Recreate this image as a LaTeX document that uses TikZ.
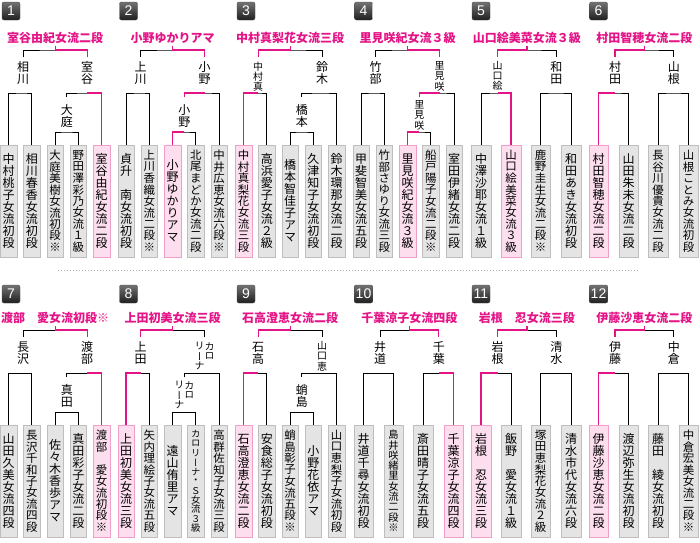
\documentclass[tikz,border=0pt]{standalone}
\usepackage{fontspec}
\usepackage{xcolor}
\usepackage{tikz}
\newfontfamily\jp{Noto Sans CJK JP}
\newfontfamily\jpv[RawFeature=+vert]{Noto Sans CJK JP}
\newfontfamily\numfont{Liberation Sans}
\definecolor{hot}{RGB}{228,20,135}
\definecolor{pinkfill}{RGB}{252,222,238}
\definecolor{pinkline}{RGB}{240,160,200}
\definecolor{boxfill}{RGB}{228,228,228}
\definecolor{boxline}{RGB}{190,190,190}
% vertical text, one character under the other
\newdimen\vtpitch
\newdimen\vtfs
\newcount\vtn
\newcommand\zs{\hbox to 1em{}}
\def\vtcount#1{\ifx#1\relax\else\advance\vtn by 1 \expandafter\vtcount\fi}
\def\vtloop#1{\ifx#1\relax\else\vbox to\vtpitch{\vss\hbox to 1em{\hss#1\hss}\vss}\expandafter\vtloop\fi}
\newcommand\vt[2][12pt]{%
  \vtn=0 \vtcount#2\relax
  \vtpitch=#1\relax
  \ifnum\vtn>8 \vtpitch=\dimexpr 103pt/\vtn\relax\fi
  \vtfs=\vtpitch
  \fontsize{\the\vtfs}{\the\vtpitch}\selectfont
  \vtop{\offinterlineskip\vtloop#2\relax}}

\begin{document}
\begin{tikzpicture}[x=1pt, y=-1pt,
  los/.style={draw=black, line width=1pt},
  win/.style={draw=hot, line width=1.2pt},
  player/.style={draw=boxline, fill=boxfill, anchor=north, minimum width=16.5pt, minimum height=112pt, inner sep=0pt, font=\jpv},
  champ/.style={player, draw=pinkline, fill=pinkfill},
  wide/.style={minimum width=19.5pt},
  lab/.style={anchor=north, inner xsep=0pt, inner ysep=4pt, font=\jpv},
  sublab/.style={lab, inner ysep=7pt},
  title/.style={anchor=base, inner sep=3pt, text=hot, font=\jp\bfseries\fontsize{12pt}{12pt}\selectfont},
  badge/.style={rounded corners=2pt, top color=black!55, bottom color=black!88, draw=black!70, text=white, font=\numfont\fontsize{14pt}{14pt}\selectfont, minimum width=18pt, minimum height=18pt, inner xsep=1.5pt, inner ysep=0pt}]

  \useasboundingbox (0,0) rectangle (700,542);

  % ---------- row 1 ----------
  \begin{scope}[shift={(1,0)}]
    \node[badge] (nA) at (10,11) {1};
    \node[title] (tA) at (54.2,42) {室谷由紀女流二段};
    \node[lab] (sAa) at (22.2,57) {\vt{相川}};
    \node[lab] (sAb) at (86.2,57) {\vt{室谷}};
    \node[sublab] (qA) at (65.75,97) {\vt{大庭}};
    \node[player] (pA1) at (7.5,145) {\vt{中村桃子女流初段}};
    \node[player] (pA2) at (30.8,145) {\vt{相川春香女流初段}};
    \node[player] (pA3) at (54.1,145) {\vt{大庭美樹女流初段※}};
    \node[player] (pA4) at (77.4,145) {\vt{野田澤彩乃女流１級}};
    \node[champ] (pA5) at (100.7,145) {\vt{室谷由紀女流二段}};
    \coordinate (topA) at (54.2,50);
    \coordinate (mAa) at (22.2,93);
    \coordinate (mAb) at (86.2,93);
    \coordinate (mAq) at (65.75,132);
    \draw[los] (sAa.north) |- (topA) -| (sAb.north);
    \draw[los] (pA1.north) |- (mAa) -| (pA2.north);
    \draw[los] (qA.north) |- (mAb) -| (pA5.north);
    \draw[los] (pA3.north) |- (mAq) -| (pA4.north);
    \draw[win] (pA5.north) |- (mAb);
    \draw[win] (sAb.north) |- (topA) -- (tA.south);
  \end{scope}

  \begin{scope}[shift={(118.5,0)}]
    \node[badge] (nB) at (10,11) {2};
    \node[title] (tB) at (54.2,42) {小野ゆかりアマ};
    \node[lab] (sBa) at (22.2,57) {\vt{上川}};
    \node[lab] (sBb) at (86.2,57) {\vt{小野}};
    \node[sublab] (qB) at (65.75,97) {\vt{小野}};
    \node[player] (pB1) at (7.5,145) {\vt{貞升\zs 南女流初段}};
    \node[player] (pB2) at (30.8,145) {\vt{上川香織女流二段※}};
    \node[champ] (pB3) at (54.1,145) {\vt{小野ゆかりアマ}};
    \node[player] (pB4) at (77.4,145) {\vt{北尾まどか女流二段}};
    \node[player] (pB5) at (100.7,145) {\vt{中井広恵女流六段※}};
    \coordinate (topB) at (54.2,50);
    \coordinate (mBa) at (22.2,93);
    \coordinate (mBb) at (86.2,93);
    \coordinate (mBq) at (65.75,132);
    \draw[los] (sBa.north) |- (topB) -| (sBb.north);
    \draw[los] (pB1.north) |- (mBa) -| (pB2.north);
    \draw[los] (qB.north) |- (mBb) -| (pB5.north);
    \draw[los] (pB3.north) |- (mBq) -| (pB4.north);
    \draw[win] (pB3.north) |- (mBq);
    \draw[win] (qB.north) |- (mBb);
    \draw[win] (sBb.north) |- (topB) -- (tB.south);
  \end{scope}

  \begin{scope}[shift={(236,0)}]
    \node[badge] (nC) at (10,11) {3};
    \node[title] (tC) at (54.2,42) {中村真梨花女流三段};
    \node[lab] (sCa) at (22.2,57) {\vt[10pt]{中村真}};
    \node[lab] (sCb) at (86.2,57) {\vt{鈴木}};
    \node[sublab] (qC) at (65.75,97) {\vt{橋本}};
    \node[champ] (pC1) at (7.5,145) {\vt{中村真梨花女流三段}};
    \node[player] (pC2) at (30.8,145) {\vt{高浜愛子女流２級}};
    \node[player] (pC3) at (54.1,145) {\vt{橋本智佳子アマ}};
    \node[player] (pC4) at (77.4,145) {\vt{久津知子女流初段}};
    \node[player] (pC5) at (100.7,145) {\vt{鈴木環那女流二段}};
    \coordinate (topC) at (54.2,50);
    \coordinate (mCa) at (22.2,93);
    \coordinate (mCb) at (86.2,93);
    \coordinate (mCq) at (65.75,132);
    \draw[los] (sCa.north) |- (topC) -| (sCb.north);
    \draw[los] (pC1.north) |- (mCa) -| (pC2.north);
    \draw[los] (qC.north) |- (mCb) -| (pC5.north);
    \draw[los] (pC3.north) |- (mCq) -| (pC4.north);
    \draw[win] (pC1.north) |- (mCa);
    \draw[win] (sCa.north) |- (topC) -- (tC.south);
  \end{scope}

  \begin{scope}[shift={(353.5,0)}]
    \node[badge] (nD) at (10,11) {4};
    \node[title] (tD) at (54.2,42) {里見咲紀女流３級};
    \node[lab] (sDa) at (22.2,57) {\vt{竹部}};
    \node[lab] (sDb) at (86.2,57) {\vt[10pt]{里見咲}};
    \node[sublab, inner ysep=3pt] (qD) at (65.75,97) {\vt[10pt]{里見咲}};
    \node[player] (pD1) at (7.5,145) {\vt{甲斐智美女流五段}};
    \node[player] (pD2) at (30.8,145) {\vt{竹部さゆり女流三段}};
    \node[champ] (pD3) at (54.1,145) {\vt{里見咲紀女流３級}};
    \node[player] (pD4) at (77.4,145) {\vt{船戸陽子女流二段※}};
    \node[player] (pD5) at (100.7,145) {\vt{室田伊緒女流二段}};
    \coordinate (topD) at (54.2,50);
    \coordinate (mDa) at (22.2,93);
    \coordinate (mDb) at (86.2,93);
    \coordinate (mDq) at (65.75,132);
    \draw[los] (sDa.north) |- (topD) -| (sDb.north);
    \draw[los] (pD1.north) |- (mDa) -| (pD2.north);
    \draw[los] (qD.north) |- (mDb) -| (pD5.north);
    \draw[los] (pD3.north) |- (mDq) -| (pD4.north);
    \draw[win] (pD3.north) |- (mDq);
    \draw[win] (qD.north) |- (mDb);
    \draw[win] (sDb.north) |- (topD) -- (tD.south);
  \end{scope}

  \begin{scope}[shift={(471,0)}]
    \node[badge] (nE) at (10,11) {5};
    \node[title] (tE) at (55.9,42) {山口絵美菜女流３級};
    \node[lab] (sEa) at (26.5,57) {\vt[10pt]{山口絵}};
    \node[lab] (sEb) at (85.3,57) {\vt{和田}};
    \node[player, wide] (pE1) at (10,145) {\vt{中澤沙耶女流１級}};
    \node[champ, wide] (pE2) at (40,145) {\vt{山口絵美菜女流３級}};
    \node[player, wide] (pE3) at (69.5,145) {\vt{鹿野圭生女流二段※}};
    \node[player, wide] (pE4) at (100,145) {\vt{和田あき女流初段}};
    \coordinate (topE) at (55.9,50);
    \coordinate (mEa) at (26.5,93);
    \coordinate (mEb) at (85.3,93);
    \draw[los] (sEa.north) |- (topE) -| (sEb.north);
    \draw[los] (pE1.north) |- (mEa) -| (pE2.north);
    \draw[los] (pE3.north) |- (mEb) -| (pE4.north);
    \draw[win] (pE2.north) |- (mEa);
    \draw[win] (sEa.north) |- (topE) -- (tE.south);
  \end{scope}

  \begin{scope}[shift={(588.5,0)}]
    \node[badge] (nF) at (10,11) {6};
    \node[title] (tF) at (55.9,42) {村田智穂女流二段};
    \node[lab] (sFa) at (26.5,57) {\vt{村田}};
    \node[lab] (sFb) at (85.3,57) {\vt{山根}};
    \node[champ, wide] (pF1) at (10,145) {\vt{村田智穂女流二段}};
    \node[player, wide] (pF2) at (40,145) {\vt{山田朱未女流二段}};
    \node[player, wide] (pF3) at (69.5,145) {\vt{長谷川優貴女流二段}};
    \node[player, wide] (pF4) at (100,145) {\vt{山根ことみ女流初段}};
    \coordinate (topF) at (55.9,50);
    \coordinate (mFa) at (26.5,93);
    \coordinate (mFb) at (85.3,93);
    \draw[los] (sFa.north) |- (topF) -| (sFb.north);
    \draw[los] (pF1.north) |- (mFa) -| (pF2.north);
    \draw[los] (pF3.north) |- (mFb) -| (pF4.north);
    \draw[win] (pF1.north) |- (mFa);
    \draw[win] (sFa.north) |- (topF) -- (tF.south);
  \end{scope}

  % dotted rule between the rows
  \draw[black!30, line width=1pt, dash pattern=on 1pt off 2pt] (58,270) -- (640,270);

  % ---------- row 2 ----------
  \begin{scope}[shift={(1,280)}]
    \node[badge] (nG) at (10,14) {7};
    \node[title] (tG) at (54.2,42) {渡部\zs 愛女流初段※};
    \node[lab] (sGa) at (22.2,57) {\vt{長沢}};
    \node[lab] (sGb) at (86.2,57) {\vt{渡部}};
    \node[sublab] (qG) at (65.75,97) {\vt{真田}};
    \node[player] (pG1) at (7.5,145) {\vt{山田久美女流四段}};
    \node[player] (pG2) at (30.8,145) {\vt{長沢千和子女流四段}};
    \node[player] (pG3) at (54.1,145) {\vt{佐々木香歩アマ}};
    \node[player] (pG4) at (77.4,145) {\vt{真田彩子女流二段}};
    \node[champ] (pG5) at (100.7,145) {\vt{渡部\zs 愛女流初段※}};
    \coordinate (topG) at (54.2,50);
    \coordinate (mGa) at (22.2,93);
    \coordinate (mGb) at (86.2,93);
    \coordinate (mGq) at (65.75,132);
    \draw[los] (sGa.north) |- (topG) -| (sGb.north);
    \draw[los] (pG1.north) |- (mGa) -| (pG2.north);
    \draw[los] (qG.north) |- (mGb) -| (pG5.north);
    \draw[los] (pG3.north) |- (mGq) -| (pG4.north);
    \draw[win] (pG5.north) |- (mGb);
    \draw[win] (sGb.north) |- (topG) -- (tG.south);
  \end{scope}

  \begin{scope}[shift={(118.5,280)}]
    \node[badge] (nH) at (10,14) {8};
    \node[title] (tH) at (54.2,42) {上田初美女流三段};
    \node[lab] (sHa) at (22.2,57) {\vt{上田}};
    \node[lab] (sHb) at (86.2,57) {\hbox{\vt[10pt]{リーナ}\vt[10pt]{カロ}}};
    \node[sublab, inner ysep=3pt] (qH) at (65.75,97) {\hbox{\vt[10pt]{リーナ}\vt[10pt]{カロ}}};
    \node[champ] (pH1) at (7.5,145) {\vt{上田初美女流三段}};
    \node[player] (pH2) at (30.8,145) {\vt{矢内理絵子女流五段}};
    \node[player] (pH3) at (54.1,145) {\vt{遠山侑里アマ}};
    \node[player] (pH4) at (77.4,145) {\vt{カロリーナ・Ｓ女流３級}};
    \node[player] (pH5) at (100.7,145) {\vt{高群佐知子女流三段}};
    \coordinate (topH) at (54.2,50);
    \coordinate (mHa) at (22.2,93);
    \coordinate (mHb) at (86.2,93);
    \coordinate (mHq) at (65.75,132);
    \draw[los] (sHa.north) |- (topH) -| (sHb.north);
    \draw[los] (pH1.north) |- (mHa) -| (pH2.north);
    \draw[los] (qH.north) |- (mHb) -| (pH5.north);
    \draw[los] (pH3.north) |- (mHq) -| (pH4.north);
    \draw[win] (pH1.north) |- (mHa);
    \draw[win] (sHa.north) |- (topH) -- (tH.south);
  \end{scope}

  \begin{scope}[shift={(236,280)}]
    \node[badge] (nI) at (10,14) {9};
    \node[title] (tI) at (54.2,42) {石高澄恵女流二段};
    \node[lab] (sIa) at (22.2,57) {\vt{石高}};
    \node[lab] (sIb) at (86.2,57) {\vt[10pt]{山口恵}};
    \node[sublab] (qI) at (65.75,97) {\vt{蛸島}};
    \node[champ] (pI1) at (7.5,145) {\vt{石高澄恵女流二段}};
    \node[player] (pI2) at (30.8,145) {\vt{安食総子女流初段}};
    \node[player] (pI3) at (54.1,145) {\vt{蛸島彰子女流五段※}};
    \node[player] (pI4) at (77.4,145) {\vt{小野花依アマ}};
    \node[player] (pI5) at (100.7,145) {\vt{山口恵梨子女流初段}};
    \coordinate (topI) at (54.2,50);
    \coordinate (mIa) at (22.2,93);
    \coordinate (mIb) at (86.2,93);
    \coordinate (mIq) at (65.75,132);
    \draw[los] (sIa.north) |- (topI) -| (sIb.north);
    \draw[los] (pI1.north) |- (mIa) -| (pI2.north);
    \draw[los] (qI.north) |- (mIb) -| (pI5.north);
    \draw[los] (pI3.north) |- (mIq) -| (pI4.north);
    \draw[win] (pI1.north) |- (mIa);
    \draw[win] (sIa.north) |- (topI) -- (tI.south);
  \end{scope}

  \begin{scope}[shift={(353.5,280)}]
    \node[badge] (nJ) at (10,14) {10};
    \node[title] (tJ) at (55.9,42) {千葉涼子女流四段};
    \node[lab] (sJa) at (26.5,57) {\vt{井道}};
    \node[lab] (sJb) at (85.3,57) {\vt{千葉}};
    \node[player, wide] (pJ1) at (10,145) {\vt{井道千尋女流初段}};
    \node[player, wide] (pJ2) at (40,145) {\vt{島井咲緒里女流二段※}};
    \node[player, wide] (pJ3) at (69.5,145) {\vt{斎田晴子女流五段}};
    \node[champ, wide] (pJ4) at (100,145) {\vt{千葉涼子女流四段}};
    \coordinate (topJ) at (55.9,50);
    \coordinate (mJa) at (26.5,93);
    \coordinate (mJb) at (85.3,93);
    \draw[los] (sJa.north) |- (topJ) -| (sJb.north);
    \draw[los] (pJ1.north) |- (mJa) -| (pJ2.north);
    \draw[los] (pJ3.north) |- (mJb) -| (pJ4.north);
    \draw[win] (pJ4.north) |- (mJb);
    \draw[win] (sJb.north) |- (topJ) -- (tJ.south);
  \end{scope}

  \begin{scope}[shift={(471,280)}]
    \node[badge] (nK) at (10,14) {11};
    \node[title] (tK) at (55.9,42) {岩根\zs 忍女流三段};
    \node[lab] (sKa) at (26.5,57) {\vt{岩根}};
    \node[lab] (sKb) at (85.3,57) {\vt{清水}};
    \node[champ, wide] (pK1) at (10,145) {\vt{岩根\zs 忍女流三段}};
    \node[player, wide] (pK2) at (40,145) {\vt{飯野\zs 愛女流１級}};
    \node[player, wide] (pK3) at (69.5,145) {\vt{塚田恵梨花女流２級}};
    \node[player, wide] (pK4) at (100,145) {\vt{清水市代女流六段}};
    \coordinate (topK) at (55.9,50);
    \coordinate (mKa) at (26.5,93);
    \coordinate (mKb) at (85.3,93);
    \draw[los] (sKa.north) |- (topK) -| (sKb.north);
    \draw[los] (pK1.north) |- (mKa) -| (pK2.north);
    \draw[los] (pK3.north) |- (mKb) -| (pK4.north);
    \draw[win] (pK1.north) |- (mKa);
    \draw[win] (sKa.north) |- (topK) -- (tK.south);
  \end{scope}

  \begin{scope}[shift={(588.5,280)}]
    \node[badge] (nL) at (10,14) {12};
    \node[title] (tL) at (55.9,42) {伊藤沙恵女流二段};
    \node[lab] (sLa) at (26.5,57) {\vt{伊藤}};
    \node[lab] (sLb) at (85.3,57) {\vt{中倉}};
    \node[champ, wide] (pL1) at (10,145) {\vt{伊藤沙恵女流二段}};
    \node[player, wide] (pL2) at (40,145) {\vt{渡辺弥生女流初段}};
    \node[player, wide] (pL3) at (69.5,145) {\vt{藤田\zs 綾女流初段}};
    \node[player, wide] (pL4) at (100,145) {\vt{中倉宏美女流二段※}};
    \coordinate (topL) at (55.9,50);
    \coordinate (mLa) at (26.5,93);
    \coordinate (mLb) at (85.3,93);
    \draw[los] (sLa.north) |- (topL) -| (sLb.north);
    \draw[los] (pL1.north) |- (mLa) -| (pL2.north);
    \draw[los] (pL3.north) |- (mLb) -| (pL4.north);
    \draw[win] (pL1.north) |- (mLa);
    \draw[win] (sLa.north) |- (topL) -- (tL.south);
  \end{scope}
\end{tikzpicture}
\end{document}
